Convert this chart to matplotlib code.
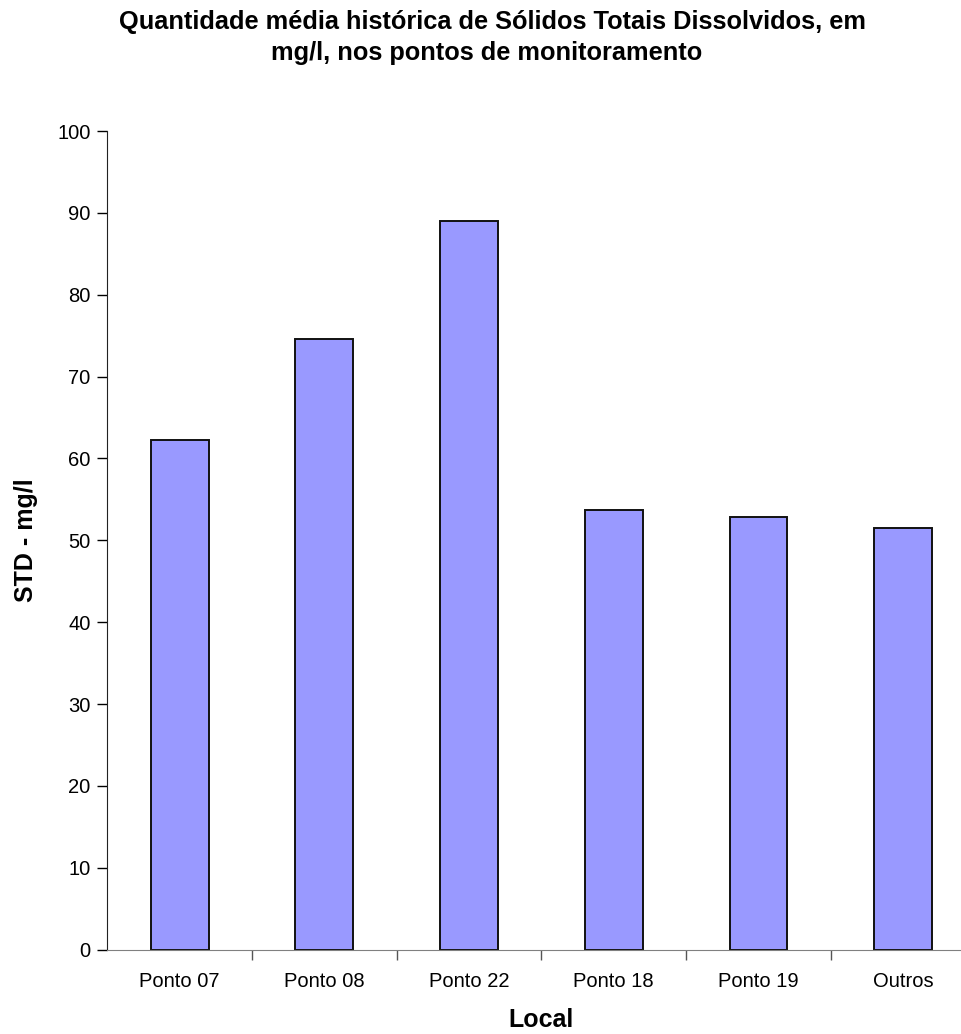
import matplotlib
matplotlib.use("Agg")
import matplotlib.pyplot as plt

# Mean historical TDS per monitoring point
locais = ["Ponto 07", "Ponto 08", "Ponto 22", "Ponto 18", "Ponto 19", "Outros"]
std_mgl = [62.3, 74.6, 89.0, 53.7, 52.9, 51.5]
y_ticks = [0, 10, 20, 30, 40, 50, 60, 70, 80, 90, 100]

plt.rcParams["font.family"] = ["Liberation Sans", "DejaVu Sans"]

fig = plt.figure(figsize=(9.61, 10.34), dpi=100)
ax = fig.add_axes([0.1117, 0.0815, 0.9034, 0.7918])

x = list(range(len(locais)))
ax.bar(x, std_mgl, width=0.4, color="#9999FF", edgecolor="#111111", linewidth=1.4)

ax.set_xlim(-0.5, len(locais) - 0.5)
ax.set_ylim(0, 100)
ax.set_yticks(y_ticks)
# separators between categories as major ticks, names on minor ticks
ax.set_xticks([i + 0.5 for i in x[:-1]])
ax.set_xticklabels([])
ax.set_xticks(x, minor=True)
ax.set_xticklabels(locais, minor=True, fontsize=14.5)
ax.tick_params(axis="x", which="minor", length=0, pad=16)
ax.tick_params(axis="x", which="major", length=7, width=1, color="#555555")
ax.tick_params(axis="y", length=7, width=1, pad=5, labelsize=14.5)

ax.spines["top"].set_visible(False)
ax.spines["right"].set_visible(False)
ax.spines["bottom"].set_color("#808080")
ax.spines["left"].set_color("#222222")
ax.spines["bottom"].set_clip_on(False)

ax.set_ylabel("STD - mg/l", fontsize=18, fontweight="bold", labelpad=14)
ax.set_xlabel("Local", fontsize=18, fontweight="bold", labelpad=12)

fig.text(0.5125, 1 - 29 / 1034,
         "Quantidade média histórica de Sólidos Totais Dissolvidos, em",
         ha="center", va="baseline", fontsize=18.3, fontweight="bold")
fig.text(0.506, 1 - 60 / 1034,
         "mg/l, nos pontos de monitoramento",
         ha="center", va="baseline", fontsize=18.3, fontweight="bold")

fig.savefig("out.png", dpi=100)
